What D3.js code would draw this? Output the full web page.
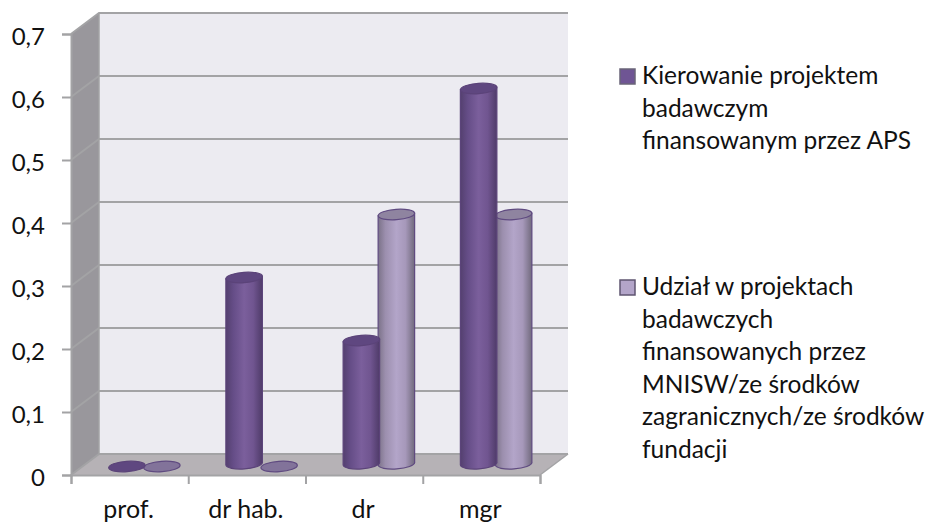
<!DOCTYPE html>
<html><head><meta charset="utf-8">
<script src="https://cdn.jsdelivr.net/npm/d3@7"></script>
<style>html,body{margin:0;padding:0;background:#fff}svg{display:block}text{font-family:Lato,"Noto Sans",sans-serif;fill:#111}</style>
</head><body><svg id="c" width="928" height="522"></svg>
<script>
const categories = ["prof.", "dr hab.", "dr", "mgr"];
const seriesLead = [0, 0.3, 0.2, 0.6];
const seriesPart = [0, 0, 0.4, 0.4];
const yTicks = [0, 0.1, 0.2, 0.3, 0.4, 0.5, 0.6, 0.7];
const legendLead = ["Kierowanie projektem", "badawczym", "finansowanym przez APS"];
const legendPart = ["Udział w projektach", "badawczych", "finansowanych przez", "MNISW/ze środków", "zagranicznych/ze środków", "fundacji"];

const svg = d3.select("#c");
const dx = 28, dy = -21;
const x = d3.scaleBand().domain(categories).range([71, 540]);
const xEdge = d3.scaleLinear().domain([0, categories.length]).range([71, 540]);
const y = d3.scaleLinear().domain([0, 0.7]).range([475, 34]);
const gridCol = "#a3a3a5";
const fmt = v => v === 0 ? "0" : String(v).replace(".", ",");

const defs = svg.append("defs");
function grad(id, stops) {
  const g = defs.append("linearGradient").attr("id", id);
  stops.forEach(s => g.append("stop").attr("offset", s[0]).attr("stop-color", s[1]));
}
grad("gLead", [[0, "#54406f"], [0.2, "#654d87"], [0.5, "#7b5f9c"], [0.75, "#705590"], [1, "#4f3b69"]]);
grad("gPart", [[0, "#7b7288"], [0.2, "#9c8fae"], [0.5, "#b3a5c9"], [0.75, "#a698ba"], [1, "#716a7d"]]);

const pts = a => a.map(p => p.join(",")).join(" ");
svg.append("polygon").attr("points", pts([[x.range()[0] + dx, y(0.7) + dy], [x.range()[1] + dx, y(0.7) + dy], [x.range()[1] + dx, y(0) + dy], [x.range()[0] + dx, y(0) + dy]])).attr("fill", "#ecebf1");
svg.append("polygon").attr("points", pts([[71, y(0.7)], [71 + dx, y(0.7) + dy], [71 + dx, y(0) + dy], [71, y(0)]])).attr("fill", "#99979c");
svg.append("polygon").attr("points", pts([[71, y(0)], [71 + dx, y(0) + dy], [540 + dx, y(0) + dy], [540, y(0)]])).attr("fill", "#b6b2b6");
yTicks.forEach(v => {
  svg.append("polyline").attr("fill", "none").attr("stroke", gridCol).attr("stroke-width", 2)
    .attr("points", pts([[71, y(v)], [71 + dx, y(v) + dy], [540 + dx, y(v) + dy]]));
});
svg.append("line").attr("x1", 71 + dx).attr("x2", 71 + dx).attr("y1", y(0.7) + dy).attr("y2", y(0) + dy).attr("stroke", gridCol).attr("stroke-width", 1.5);
svg.append("line").attr("x1", 540 + dx).attr("x2", 540).attr("y1", y(0) + dy).attr("y2", y(0)).attr("stroke", gridCol).attr("stroke-width", 1.5);

const barW = 36.5, ry = 5.2, tilt = -4;
const cz = 10;
const series = [
  {values: seriesLead, off: 0, fill: "url(#gLead)", top: "#5f4780", stroke: "#5b4379", flat: "#5f4780"},
  {values: seriesPart, off: 1, fill: "url(#gPart)", top: "#8f84a0", stroke: "#5f4a80", flat: "#82739a"}
];
const barX = (i, off) => x(categories[i]) + x.bandwidth() / 2 + dx / 2 - barW / 2 + off * barW + 1.5 - off * 1.5;
categories.forEach((c, i) => {
  [series[1], series[0]].forEach(s => {
    const v = s.values[i];
    const cx = barX(i, s.off);
    const yb = y(0) - cz, yt = y(v) - cz + 1.5;
    const g = svg.append("g");
    if (v > 0) {
      g.append("path")
        .attr("d", `M${cx - barW / 2},${yt + 1.3} L${cx - barW / 2},${yb} A${barW / 2},${ry} ${tilt} 0 0 ${cx + barW / 2},${yb - 2.6} L${cx + barW / 2},${yt - 1.3} Z`)
        .attr("fill", s.fill).attr("stroke", s.stroke).attr("stroke-width", 1.2);
    }
    g.append("ellipse").attr("cx", cx).attr("cy", yt).attr("rx", barW / 2).attr("ry", ry)
      .attr("transform", `rotate(${tilt} ${cx} ${yt})`)
      .attr("fill", v > 0 ? s.top : s.flat).attr("stroke", s.stroke).attr("stroke-width", 1.2);
  });
});

const axL = svg.append("g").attr("transform", "translate(71,0)")
  .call(d3.axisLeft(y).tickValues(yTicks).tickFormat(fmt).tickSize(9).tickPadding(17));
const axB = svg.append("g").attr("transform", `translate(0,${y(0)})`)
  .call(d3.axisBottom(xEdge).ticks(categories.length).tickFormat("").tickSize(9).tickSizeOuter(9));
const axC = svg.append("g").attr("transform", `translate(0,${y(0)})`)
  .call(d3.axisBottom(x).tickSize(0).tickPadding(25));
[axL, axB, axC].forEach(a => {
  a.selectAll(".domain").attr("stroke", gridCol).attr("stroke-width", 2);
  a.selectAll(".tick line").attr("stroke", gridCol).attr("stroke-width", 2);
  a.selectAll("text").attr("fill", "#111").style("font-family", "Lato,'Noto Sans',sans-serif");
});
axL.selectAll("text").attr("font-size", 24).attr("y", 3).attr("dy", "0.32em");
axC.selectAll("text").attr("font-size", 25).attr("dx", -1);
axC.select(".domain").remove();

function legend(lines, swatchY, firstBase, fill, stroke, step) {
  svg.append("rect").attr("x", 620).attr("y", swatchY).attr("width", 15).attr("height", 15)
    .attr("fill", fill).attr("stroke", stroke).attr("stroke-width", 1.5);
  svg.append("g").selectAll("text").data(lines).join("text")
    .attr("x", 642).attr("y", (d, i) => firstBase + i * step).attr("font-size", 24.5).text(d => d);
}
legend(legendLead, 69, 84, "#6f5594", "#6a6478", 32.5);
legend(legendPart, 280, 295, "#b3a5c9", "#5f5570", 32.6);
</script></body></html>
